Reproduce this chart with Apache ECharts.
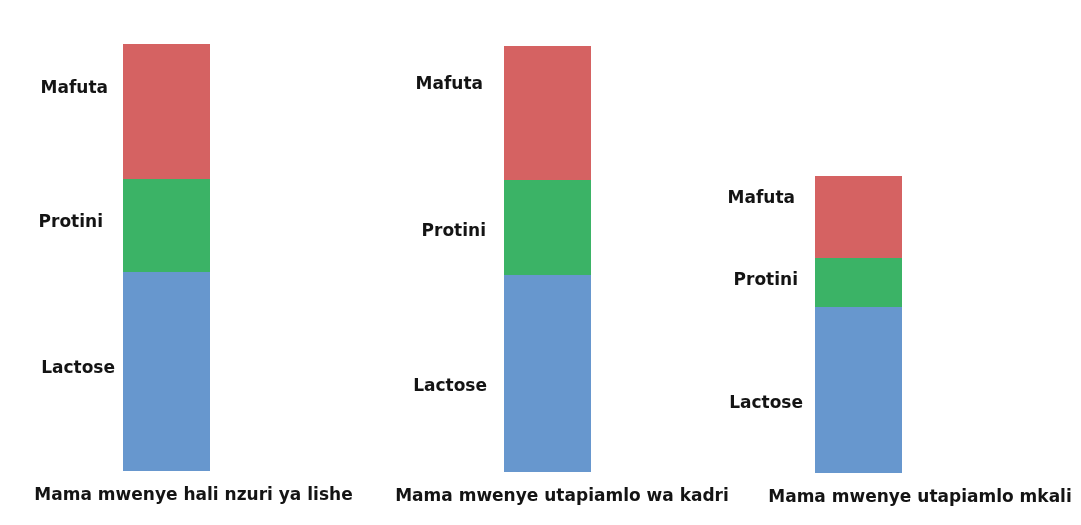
<!DOCTYPE html>
<html>
<head>
<meta charset="utf-8">
<style>
  html, body { margin: 0; padding: 0; background: #ffffff; }
  #chart { width: 1081px; height: 525px; }
</style>
<script src="https://cdn.jsdelivr.net/npm/echarts@6/dist/echarts.min.js"></script>
</head>
<body>
<div id="chart"></div>
<script>
// Milk composition for three groups of mothers (relative amounts)
const categories = [
  'Mama mwenye hali nzuri ya lishe',
  'Mama mwenye utapiamlo wa kadri',
  'Mama mwenye utapiamlo mkali'
];
const componentNames = ['Lactose', 'Protini', 'Mafuta'];
const lactose = [199, 197, 166];
const protini = [93, 95, 49];
const mafuta  = [135, 134, 82];
const seriesValues = [lactose, protini, mafuta];

// Layout: one small grid per group
const barCenters   = [166.5, 547.5, 858.5];
const gridBottoms  = [54, 53, 52];
const plotHeight   = 430;
const gridWidth    = 120;
const barWidth     = 87;
const categoryShift = [27, 14.5, 61.5];
// label offsets per group, per component (Lactose, Protini, Mafuta): [dx, dy]
const labelOffsets = [
  [[-3, -3], [-15, -3], [-10, -23]],
  [[-12, 13], [-13, 4], [-16, -28]],
  [[-7, 14], [-12, -2], [-15, -18]]
];
const colors = ['#6797ce', '#3bb366', '#d56262'];
const fontFamily = '"DejaVu Sans", sans-serif';

const grids = [], xAxes = [], yAxes = [], series = [];
categories.forEach((cat, g) => {
  grids.push({
    left: barCenters[g] - gridWidth / 2,
    width: gridWidth,
    bottom: gridBottoms[g],
    height: plotHeight
  });
  xAxes.push({
    type: 'category',
    gridIndex: g,
    data: [cat],
    axisLine: { show: false },
    axisTick: { show: false },
    axisLabel: {
      interval: 0,
      margin: 16,
      color: '#141414',
      fontFamily: fontFamily,
      fontWeight: 'bold',
      fontSize: 17,
      padding: [0, 0, 0, categoryShift[g] * 2]
    }
  });
  yAxes.push({
    type: 'value',
    gridIndex: g,
    min: 0,
    max: plotHeight,
    show: false,
    splitLine: { show: false }
  });
  componentNames.forEach((name, k) => {
    series.push({
      name: name,
      type: 'bar',
      xAxisIndex: g,
      yAxisIndex: g,
      stack: 'milk' + g,
      barWidth: barWidth,
      itemStyle: { color: colors[k] },
      label: {
        show: true,
        position: 'left',
        distance: 5,
        offset: labelOffsets[g][k],
        formatter: name,
        color: '#141414',
        fontFamily: fontFamily,
        fontWeight: 'bold',
        fontSize: 17
      },
      emphasis: { disabled: true },
      data: [seriesValues[k][g]]
    });
  });
});

const chart = echarts.init(document.getElementById('chart'), null, { renderer: 'canvas' });
chart.setOption({
  animation: false,
  backgroundColor: '#ffffff',
  grid: grids,
  xAxis: xAxes,
  yAxis: yAxes,
  series: series
});
</script>
</body>
</html>
